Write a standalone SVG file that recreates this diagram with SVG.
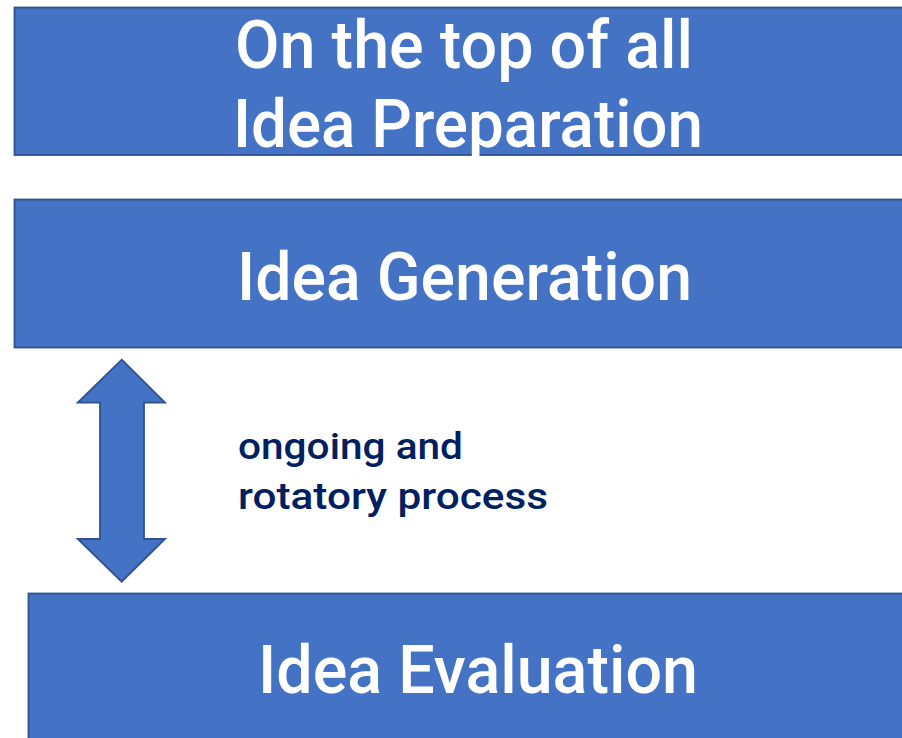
<svg xmlns="http://www.w3.org/2000/svg" width="902" height="738" viewBox="0 0 902 738">
<style>
.box{fill:#4472C4;stroke:#2F528F;stroke-width:1.8}
.big{font-family:Roboto,"Liberation Sans",sans-serif;font-size:66px;font-weight:500;fill:#FFFFFF}
.small{font-family:Roboto,"Liberation Sans",sans-serif;font-size:37px;font-weight:500;fill:#002060}
</style>
<rect width="902" height="738" fill="#FFFFFF"/>
<g id="node-preparation">
<rect class="box" x="14.5" y="7.5" width="900" height="147.5"/>
<text class="big" x="235" y="68" textLength="458" lengthAdjust="spacingAndGlyphs">On the top of all</text>
<text class="big" x="233" y="147" textLength="470" lengthAdjust="spacingAndGlyphs">Idea Preparation</text>
</g>
<g id="node-generation">
<rect class="box" x="14.5" y="199.5" width="900" height="148"/>
<text class="big" x="237" y="300" textLength="455" lengthAdjust="spacingAndGlyphs">Idea Generation</text>
</g>
<g id="node-evaluation">
<rect class="box" x="28.5" y="593.5" width="890" height="160"/>
<text class="big" x="258" y="693" textLength="440" lengthAdjust="spacingAndGlyphs">Idea Evaluation</text>
</g>
<g id="connectors">
<polygon class="box" points="121.7,359.7 165,402.7 144,402.7 144,539 165,539 121.7,581.7 77.7,539 100,539 100,402.7 77.7,402.7"/>
</g>
<g id="label">
<text class="small" x="238" y="459" textLength="225" lengthAdjust="spacingAndGlyphs">ongoing and</text>
<text class="small" x="238" y="509" textLength="310" lengthAdjust="spacingAndGlyphs">rotatory process</text>
</g>
</svg>
